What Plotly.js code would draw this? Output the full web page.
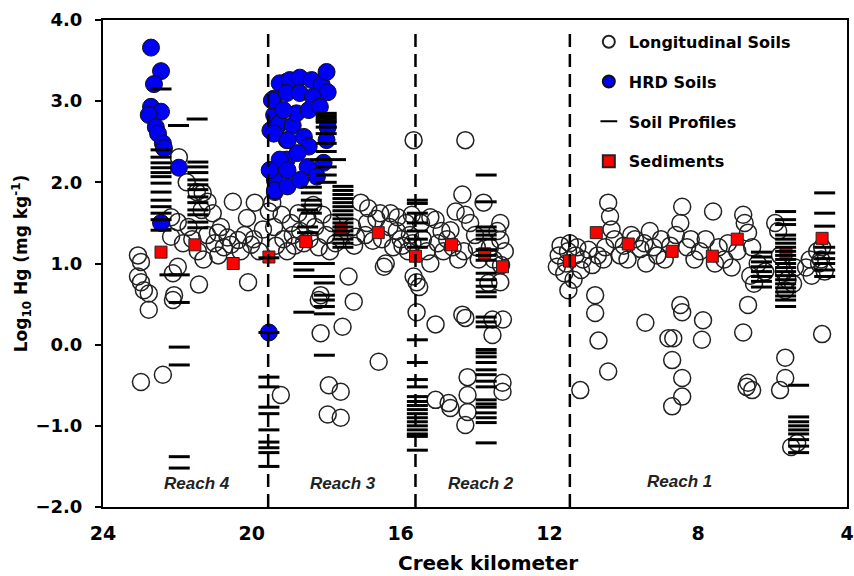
<!DOCTYPE html>
<html>
<head>
<meta charset="utf-8">
<script src="https://cdn.plot.ly/plotly-3.0.1.min.js"></script>
<style>html,body{margin:0;padding:0;background:#fff;}#chart{width:854px;height:576px;}</style>
</head>
<body>
<div id="chart"></div>
<script>
// ---- Longitudinal Soils (open circles) ----
const longKm = [
 23.06,22.98,22.98,22.9,22.77,22.77,22.98,22.39,23.06,
 21.99,22.12,22.09,22.12,21.42,20.1,
 21.96,21.75,21.48,21.32,21.19,21.35,21.05,20.51,19.92,20.13,19.54,
 22.17,21.99,22.17,20.83,20.91,20.37,20.56,20.02,
 21.7,21.6,21.45,21.2,21.0,20.75,20.65,20.3,20.2,19.95,19.8,19.7,21.85,21.3,20.9,
 19.22,18.15,18.2,18.15,17.56,17.4,17.26,16.59,17.93,17.61,17.96,17.61,16.4,16.45,
 19.45,19.4,19.35,19.2,19.15,19.05,18.95,18.9,18.85,18.75,18.7,18.6,18.5,18.45,18.35,18.3,18.2,18.1,18.0,17.9,17.85,17.75,
 17.3,17.25,17.2,17.07,16.87,16.9,16.95,16.75,16.65,16.55,16.5,16.3,16.27,16.08,16.1,16.0,15.95,15.85,15.8,15.75,15.7,15.68,16.2,
 15.65,15.65,15.57,15.5,15.57,15.06,14.34,14.26,13.64,13.32,13.53,13.25,13.53,14.2,15.06,14.71,14.66,14.2,14.2,14.26,13.26,13.26,
 14.26,14.34,14.52,14.26,14.13,14.66,13.32,15.2,13.77,13.32,15.4,15.3,15.2,15.06,15.0,14.85,14.75,14.6,14.45,14.3,14.0,13.95,13.9,13.6,13.5,13.4,13.3,13.2,15.45,14.9,
 11.49,10.77,10.77,10.68,10.42,11.17,9.42,8.48,8.43,8.8,8.67,7.87,7.9,6.66,6.79,5.66,4.67,8.7,8.43,8.43,8.7,5.66,5.66,5.8,6.66,6.55,6.7,5.34,5.5,
 11.8,11.75,11.7,11.6,11.55,11.5,11.45,11.35,11.3,11.25,11.15,11.1,10.95,10.85,10.7,10.55,10.5,10.42,10.37,10.33,10.25,10.1,10.0,9.9,9.8,9.7,9.55,9.45,9.4,9.3,9.2,9.1,9.0,8.9,8.75,8.6,8.43,8.48,8.3,8.2,8.1,7.95,7.8,7.6,7.55,7.45,7.3,7.2,7.1,6.95,6.79,6.75,6.66,6.6,6.55,6.5,6.4,6.2,5.93,5.85,5.8,5.7,5.6,5.45,5.4,5.1,5.0,4.95,4.8,4.75,4.67,4.6,4.7
];
const longHg = [
 0.84,1.02,0.77,0.67,0.63,0.43,-0.46,-0.37,1.10,
 0.96,0.88,0.61,0.55,0.74,0.77,
 2.31,2.00,1.88,1.87,1.76,1.66,1.62,1.76,1.75,1.56,1.64,
 1.57,1.51,1.33,1.45,1.38,1.29,1.23,1.23,
 1.45,1.30,1.15,1.35,1.25,1.20,1.32,1.15,1.35,1.30,1.15,1.42,1.25,1.05,1.10,
 -0.62,0.61,0.55,0.14,0.22,0.84,0.53,-0.21,-0.50,-0.58,-0.86,-0.90,1.00,0.96,
 1.75,1.45,1.22,1.60,1.30,1.15,1.50,1.35,1.22,1.62,1.40,1.25,1.55,1.30,1.72,1.45,1.20,1.60,1.35,1.15,1.50,1.25,
 1.45,1.22,1.33,1.75,1.68,1.50,1.35,1.28,1.55,1.62,1.30,1.45,1.62,1.57,1.40,1.30,1.22,1.50,1.15,1.35,1.60,1.25,1.20,
 2.52,0.84,0.77,0.71,0.40,0.25,0.37,0.33,0.76,0.77,0.31,0.31,0.12,-0.40,-0.68,-0.72,-0.78,-0.62,-0.83,-0.99,-0.47,-0.58,
 2.52,1.85,1.64,1.60,1.50,1.41,1.50,1.57,1.75,1.29,1.30,1.15,1.00,1.54,1.25,1.15,1.30,1.20,1.05,1.15,1.35,1.20,1.05,1.20,1.05,1.40,0.98,1.15,1.50,1.40,
 0.67,0.61,0.39,0.05,-0.33,-0.56,0.27,0.49,0.40,0.08,0.08,0.30,0.06,0.49,0.15,0.67,0.13,-0.19,-0.41,-0.64,-0.76,-0.16,-0.41,-0.56,-0.47,-0.56,-0.52,-1.21,-1.26,
 0.96,1.10,1.22,0.88,1.00,1.15,1.25,0.80,1.10,1.20,0.92,1.05,1.17,0.98,1.10,1.05,1.20,1.75,1.58,1.42,1.30,1.10,1.22,1.05,1.35,1.30,1.18,1.25,1.00,1.40,1.20,1.10,1.30,1.05,1.22,1.35,1.70,1.50,1.20,1.30,1.05,1.15,1.30,1.64,1.00,1.20,1.05,1.25,0.95,1.15,1.60,1.50,1.38,0.85,1.20,0.75,1.00,0.90,1.50,1.40,1.10,0.90,0.80,0.75,0.95,0.95,1.05,0.85,1.15,1.00,1.20,0.90,1.05
];

// ---- HRD Soils (blue filled circles) ----
const hrdKm = [
 22.71,22.44,22.63,22.71,22.44,22.77,22.58,22.52,22.39,22.36,21.96,22.44,19.54,
 19.41,19.40,19.50,19.30,19.50,19.38,19.38,19.06,19.06,19.06,
 19.46,19.25,18.98,18.71,18.39,18.12,17.99,17.96,19.06,18.71,18.36,19.25,18.90,19.41,19.03,18.60,18.47,17.96,17.99,18.77,19.25,19.52,19.04,18.50,18.07,19.38,19.04,18.70,18.25,18.80,18.47,18.17,19.15
];
const hrdHg = [
 3.66,3.37,3.21,2.93,2.87,2.83,2.68,2.60,2.48,2.42,2.18,1.50,0.15,
 3.03,2.83,2.64,2.70,2.15,2.03,1.88,3.24,2.28,2.52,
 3.01,3.22,3.26,3.29,3.26,3.20,3.36,3.11,3.10,3.10,3.05,2.73,2.70,2.60,2.52,2.56,2.44,2.68,2.52,2.36,2.28,2.15,2.15,2.19,2.24,1.90,1.95,2.03,2.07,2.85,2.89,2.93,2.89
];

// ---- Soil Profiles (horizontal dashes) ----
const profKm = [
 22.44,22.44,22.44,22.44,22.44,22.44,22.44,22.44,22.44,22.44,22.44,22.44,22.44,22.44,
 21.97,21.47,
 21.45,21.45,21.45,21.45,21.45,21.45,21.45,21.45,21.45,21.45,21.45,21.45,
 22.2,21.95,21.95,21.95,21.95,21.95,21.95,
 19.54,19.54,19.54,19.54,19.54,19.54,19.54,19.54,19.54,19.54,19.54,
 18.0,18.0,18.0,18.0,18.0,18.0,18.0,18.0,18.0,18.0,18.0,18.0,
 18.15,17.75,
 18.4,18.4,18.4,18.4,18.4,
 18.5,18.5,18.5,
 17.55,17.55,17.55,17.55,17.55,17.55,17.55,17.55,17.55,17.55,17.55,17.55,17.55,17.55,17.55,17.55,
 18.6,18.6,18.6,18.6,
 18.05,18.05,18.05,18.05,18.05,18.05,18.05,18.05,
 15.55,15.55,15.55,15.55,15.55,15.55,15.55,15.55,15.55,15.55,15.55,15.55,15.55,15.55,15.55,15.55,15.55,15.55,15.55,15.55,15.55,15.55,15.55,
 13.7,13.7,13.7,13.7,13.7,13.7,13.7,13.7,13.7,13.7,13.7,13.7,13.7,13.7,13.7,13.7,13.7,13.7,13.7,13.7,13.7,13.7,13.7,13.7,13.7,13.7,13.7,13.7,13.7,13.7,13.7,13.7,
 6.3,6.3,6.3,6.3,6.3,6.3,6.3,6.3,
 5.65,5.65,5.65,5.65,5.65,5.65,5.65,5.65,5.65,5.65,5.65,5.65,5.65,5.65,5.65,5.65,5.65,5.65,5.65,5.65,5.65,
 4.6,4.6,4.6,4.6,4.6,4.6,4.6,4.6,4.6,
 5.3,5.3,5.3,5.3,5.3,5.3,5.3,5.3,5.3
];
const profHg = [
 3.15,2.40,2.31,2.24,2.18,2.12,2.07,1.99,1.88,1.78,1.70,1.62,1.54,1.41,
 2.70,2.78,
 2.25,2.19,2.12,2.03,1.97,1.91,1.82,1.75,1.66,1.60,1.51,1.44,
 0.86,0.86,0.52,-0.03,-0.25,-1.38,-1.52,
 1.07,0.15,-0.40,-0.52,-0.77,-0.85,-1.05,-1.20,-1.27,-1.33,-1.50,
 2.85,2.82,2.79,2.76,2.74,2.68,2.60,2.48,2.38,2.19,2.09,2.00,
 2.28,2.28,
 1.94,1.87,1.78,1.72,1.62,
 1.66,1.45,1.38,
 1.95,1.90,1.85,1.80,1.75,1.70,1.65,1.60,1.55,1.50,1.45,1.40,1.35,1.30,1.25,1.20,
 1.00,0.92,0.84,0.40,
 1.00,0.84,0.76,0.61,0.55,0.47,0.38,-0.13,
 1.78,1.74,1.62,1.50,1.40,1.30,1.20,0.06,-0.22,-0.43,-0.52,-0.64,-0.70,-0.75,-0.80,-0.85,-0.90,-0.95,-1.00,-1.05,-1.10,-1.13,-1.30,
 2.09,1.76,1.45,1.40,1.35,1.30,1.17,1.10,1.04,0.88,0.80,0.72,0.65,0.59,0.34,0.28,0.22,-0.06,-0.10,-0.15,-0.22,-0.31,-0.37,-0.45,-0.52,-0.68,-0.73,-0.77,-0.84,-0.90,-0.96,-1.21,
 1.14,1.08,1.02,0.96,0.90,0.84,0.78,0.71,
 1.64,1.54,1.48,1.35,1.30,1.25,1.20,1.15,1.10,1.05,1.00,0.95,0.90,0.85,0.80,0.75,0.70,0.65,0.60,0.55,0.47,
 1.87,1.62,1.46,1.20,1.13,1.06,1.00,0.92,0.84,
 -0.50,-0.89,-0.95,-1.00,-1.05,-1.10,-1.17,-1.25,-1.33
];

// ---- Sediments (red squares) ----
const sedKm = [22.44,21.53,20.5,19.54,18.55,17.6,16.6,15.6,14.63,13.74,13.26,11.46,10.74,9.88,8.7,7.62,6.95,5.64,4.67];
const sedHg = [1.14,1.23,1.00,1.08,1.27,1.43,1.38,1.09,1.23,1.12,0.96,1.03,1.38,1.24,1.15,1.09,1.30,1.13,1.31];

// ---- Reach boundaries and labels ----
const reachBounds = [19.56, 15.6, 11.45];
const reachNames = ['Reach 4','Reach 3','Reach 2','Reach 1'];
const reachLabelKm = [21.48, 17.56, 13.85, 8.51];
const reachLabelHg = [-1.71, -1.71, -1.71, -1.69];

const xTicks = [24, 20, 16, 12, 8, 4];

const boldFont = 'DejaVu Sans';

const traces = [
  {
    name: 'Longitudinal Soils', x: longKm, y: longHg, type: 'scatter', mode: 'markers',
    legendgroup: 'a', legendrank: 1,
    marker: {symbol: 'circle', size: 17, color: 'rgba(255,255,255,0)', line: {color: '#222', width: 1.5}}
  },
  {
    name: 'HRD Soils', x: hrdKm, y: hrdHg, type: 'scatter', mode: 'markers',
    legendgroup: 'b', legendrank: 2,
    marker: {symbol: 'circle', size: 17, color: '#0000f5', line: {color: '#111', width: 1}}
  },
  {
    name: 'Sediments', x: sedKm, y: sedHg, type: 'scatter', mode: 'markers',
    legendgroup: 'd', legendrank: 4,
    marker: {symbol: 'square', size: 12, color: '#ff0000', line: {color: '#222', width: 1}}
  },
  {
    name: 'Soil Profiles', x: profKm, y: profHg, type: 'scatter', mode: 'markers',
    legendgroup: 'c', legendrank: 3,
    marker: {symbol: 'line-ew', size: 15, color: '#000', line: {color: '#000', width: 3}}
  }
];

const shapes = reachBounds.map(k => ({
  type: 'line', xref: 'x', yref: 'paper', x0: k, x1: k, y0: 0, y1: 0.985,
  line: {color: '#000', width: 2.5, dash: '13px,7px'}
}));

const annotations = reachNames.map((n, i) => ({
  x: reachLabelKm[i], y: reachLabelHg[i], xref: 'x', yref: 'y',
  text: n, showarrow: false,
  font: {family: 'Liberation Sans', size: 17, weight: 'bold', style: 'italic', color: '#222'}
}));
annotations.push({
  xref: 'paper', yref: 'paper', x: 0.5175, y: -0.115, xanchor: 'center', yanchor: 'middle',
  text: 'Creek kilometer', showarrow: false,
  font: {family: boldFont, size: 20, weight: 'bold', color: '#000'}
});

const layout = {
  width: 854, height: 576,
  margin: {l: 103, r: 7, t: 20, b: 69},
  paper_bgcolor: '#fff', plot_bgcolor: '#fff',
  showlegend: true,
  legend: {
    x: 0.653, y: 0.99, xanchor: 'left', yanchor: 'top',
    bgcolor: 'rgba(0,0,0,0)', borderwidth: 0,
    font: {family: boldFont, size: 16, weight: 'bold', color: '#000'},
    itemsizing: 'constant', traceorder: 'grouped', tracegroupgap: 16
  },
  xaxis: {
    range: [24, 4], tickmode: 'array', tickvals: xTicks,
    showline: true, mirror: true, linecolor: '#000', linewidth: 2,
    showgrid: false, zeroline: false,
    ticks: 'outside', ticklen: 8, tickcolor: 'rgba(0,0,0,0)',
    tickfont: {family: boldFont, size: 19, weight: 'bold', color: '#000'}
  },
  yaxis: {
    range: [-2, 4], dtick: 1, tick0: 0, tickformat: '.1f',
    showline: true, mirror: true, linecolor: '#000', linewidth: 2,
    showgrid: false, zeroline: false,
    ticks: 'outside', ticklen: 6, tickwidth: 2, tickcolor: '#000',
    ticklabelstandoff: 9,
    tickfont: {family: boldFont, size: 18, weight: 'bold', color: '#000'},
    title: {text: 'Log<sub>10</sub> Hg (mg kg<sup>-1</sup>)', font: {family: boldFont, size: 17, weight: 'bold', color: '#000'}, standoff: 3}
  },
  shapes: shapes,
  annotations: annotations
};

Plotly.newPlot('chart', traces, layout, {displayModeBar: false, staticPlot: true});
</script>
</body>
</html>
